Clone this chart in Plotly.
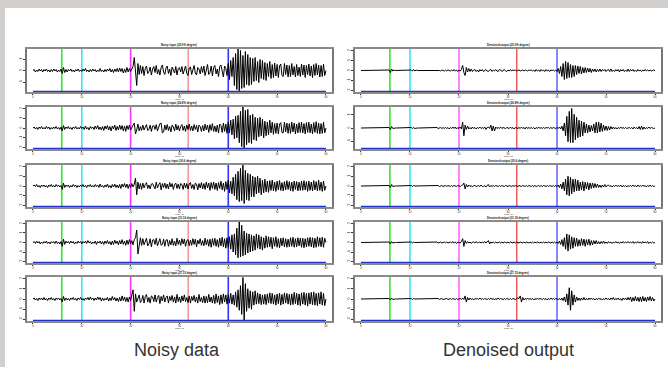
import plotly.graph_objects as go
from plotly.subplots import make_subplots

# ---------------- data ----------------
# amplitudes in half-pixel-like units, sampled every 0.25 s from 0 to 60 s
STEP = 0.25
N = 241
time_s = [i * STEP for i in range(N)]

events_s = [5.9, 10.0, 20.0, 31.8, 40.0]
noisy_event_colors = ["#33e633", "#33e6ee", "#ff33ff", "#f59595", "#3333ff"]
den_event_colors = ["#33e633", "#33e6ee", "#ff66ff", "#ee3333", "#6a6aff"]

noisy_titles = ["Noisy input (25.0% degree)", "Noisy input (26.8% degree)",
                "Noisy input (30.6 degree)", "Noisy input (31.16 degree)",
                "Noisy input (27.15 degree)"]
den_titles = ["Denoised output (25.0% degree)", "Denoised output (26.8% degree)",
              "Denoised output (30.6 degree)", "Denoised output (31.16 degree)",
              "Denoised output (27.15 degree)"]

noisy_1 = [0, 2, -3, 1, -2, 3, -1, 2, -3, 2,
           -1, 3, -2, 1, -3, 2, -2, 3, -1, 2,
           -3, 1, -2, 3, -6, 6, -4, 2, -3, 2,
           -1, 3, -2, 1, -3, 2, -1, 3, -2, 1,
           -2, 3, -1, 4, -2, 1, -3, 2, -2, 3,
           -1, 2, -3, 1, -2, 4, -2, 1, -3, 2,
           -2, 3, -1, 4, -3, 2, -4, 3, -2, 4,
           -3, 5, -2, 4, -5, 3, -4, 6, -3, 4,
           -2, 5, 8, 26, -10, -30, 14, -8, 10, -6,
           8, -10, 4, 9, -6, -2, 7, -9, 3, 8,
           -4, 10, -7, 2, -9, 6, 11, -3, -8, 5,
           9, -6, 3, -10, 7, 2, -5, 8, -9, 4,
           6, -3, 8, -7, 2, 9, -6, -10, 5, 7,
           -8, 4, 10, -5, -9, 6, 3, -7, 8, -4,
           9, -10, 5, 12, -8, -4, 9, -11, 6, 10,
           -7, 3, -12, 8, 11, -6, -13, 9, 4, -10,
           14, -18, 20, -12, 26, -30, 34, -38, 43, -42,
           40, -36, 30, -34, 38, -28, 32, -30, 26, -28,
           24, -22, 26, -20, 18, -24, 22, -16, 20, -18,
           16, -20, 14, -12, 18, -16, 12, -14, 15, -11,
           12, -14, 9, 13, -10, -12, 14, -8, 11, -13,
           10, -12, 14, -9, 8, -13, 12, -10, 7, -12,
           13, -9, 11, -14, 10, -8, 13, -11, 9, -14,
           12, -10, 14, -9, 11, -13, 10, -12, 13, -10,
           0]
noisy_2 = [0, 2, -2, 1, -3, 2, -1, 3, -2, 1,
           -2, 3, -1, 2, -3, 1, -2, 2, -1, 3,
           -2, 1, -3, 2, -6, 5, -3, 2, -1, 3,
           -2, 1, -3, 2, -1, 3, -2, 1, -2, 3,
           -1, 2, -3, 4, -2, 1, -4, 3, -1, 2,
           -3, 4, -2, 5, -3, 2, -4, 3, -5, 4,
           -2, 5, -4, 3, -6, 4, -2, 6, -5, 3,
           -4, 6, -3, 5, -6, 4, -7, 5, -3, 6,
           -4, 3, 6, 10, -12, -4, 8, -6, 3, -5,
           6, -4, 2, 7, -5, -3, 6, -7, 4, 5,
           -3, 7, -6, 4, 9, 10, -10, -8, 6, -4,
           7, -5, 3, -8, 6, 2, -6, 8, -4, 5,
           -6, 3, 7, -5, 4, -7, 6, -3, 8, -5,
           4, -6, 7, -3, 5, -8, 6, 3, -7, 5,
           -6, 8, -4, 6, -9, 7, -5, 9, -7, 4,
           -8, 6, -10, 8, 5, -9, 10, -7, 8, -11,
           12, -10, 16, -14, 18, -22, 24, -20, 26, -30,
           34, -38, 43, -42, 36, -34, 38, -30, 26, -32,
           28, -24, 22, -26, 20, -18, 22, -16, 18, -20,
           14, -16, 12, -14, 16, -10, 12, -13, 9, -11,
           10, -12, 8, 11, -9, -10, 12, -8, 10, -11,
           9, -11, 12, -8, 10, -12, 8, -10, 11, -9,
           12, -10, 9, -12, 11, -9, 12, -10, 8, -12,
           11, -9, 13, -11, 10, -12, 9, -11, 12, -10,
           0]
noisy_3 = [0, 2, -1, 3, -2, 1, -3, 2, -1, 2,
           -2, 1, -3, 2, -1, 3, -2, 1, -2, 3,
           -1, 2, -2, 1, -7, 6, -3, 2, -1, 2,
           -3, 1, -2, 3, -1, 2, -3, 1, -2, 2,
           -1, 3, -2, 1, -3, 2, -1, 3, -2, 1,
           -2, 3, -1, 2, -3, 4, -2, 1, -3, 2,
           -2, 4, -3, 1, -4, 3, -2, 4, -3, 2,
           -4, 3, -5, 4, -2, 5, -3, 4, -5, 3,
           -3, 5, -2, 4, 16, -18, 8, -6, 5, -7,
           6, -4, 3, 7, -5, 2, -6, 4, 5, -3,
           -6, 8, -4, 3, 7, -8, 5, -3, 6, -5,
           4, -6, 7, -2, 5, -7, 3, 6, -5, 4,
           -6, 5, 3, -7, 6, -4, 5, -6, 4, 7,
           -5, 3, -7, 6, 4, -8, 5, -4, 7, -6,
           5, -7, 8, -4, 6, -9, 7, -5, 8, -7,
           6, -9, 7, -5, 10, -8, 6, -11, 9, -7,
           12, -14, 10, -16, 18, -20, 24, -28, 30, -32,
           36, -30, 43, -36, 32, -28, 26, -30, 24, -22,
           20, -22, 18, -16, 20, -14, 16, -18, 12, -14,
           14, -12, 10, -13, 11, -9, 12, -10, 8, -11,
           10, -8, 11, -9, 7, -10, 9, -8, 11, -7,
           9, -10, 8, -11, 10, -7, 9, -10, 8, -9,
           10, -9, 11, -8, 9, -11, 10, -9, 8, -10,
           11, -8, 9, -10, 12, -9, 8, -11, 10, -9,
           0]
noisy_4 = [0, 2, -2, 3, -1, 2, -3, 1, -2, 2,
           -1, 3, -2, 1, -3, 2, -1, 2, -2, 3,
           -2, 1, -3, 2, -8, 7, -4, 3, -1, 2,
           -2, 3, -1, 2, -3, 1, -2, 3, -1, 2,
           -3, 2, -1, 3, -2, 4, -1, 2, -3, 1,
           -2, 3, -4, 2, -1, 3, -3, 2, -4, 3,
           -2, 4, -3, 2, -5, 3, -4, 5, -2, 3,
           -5, 4, -3, 6, -4, 3, -6, 5, -4, 6,
           -3, 4, -5, 6, 10, 26, -24, -8, 10, -6,
           8, -5, 4, 9, -7, -3, 8, -9, 5, 6,
           -4, 9, -7, 3, 8, -6, -4, 7, -8, 5,
           6, -8, 4, -5, 8, -6, 3, -7, 9, -4,
           5, -6, 8, -3, 7, -8, 4, 6, -7, 5,
           -6, 8, -4, 7, -9, 5, -3, 8, -6, 4,
           -7, 9, -5, 6, -8, 7, -10, 8, -6, 9,
           -8, 6, -10, 9, -7, 11, -9, 8, -12, 10,
           -10, 12, -14, 16, -20, 18, -26, 30, -32, 43,
           -30, 36, -28, 24, -26, 20, -22, 18, -20, 16,
           -18, 14, -16, 18, -12, 16, -14, 12, -16, 10,
           -12, 14, -10, 12, -9, 11, -13, 10, -8, 12,
           -10, 8, -11, 9, -7, 10, -9, 8, -10, 7,
           -9, 10, -8, 11, -10, 8, -9, 10, -7, 9,
           -10, 9, -11, 8, -9, 10, -8, 11, -9, 10,
           -11, 9, -10, 12, -8, 10, -9, 11, -10, 9,
           0]
noisy_5 = [0, 2, -2, 1, -3, 2, -1, 2, -2, 3,
           -2, 1, -3, 2, -1, 3, -2, 1, -3, 2,
           -1, 2, -2, 1, -6, 5, -3, 2, -2, 1,
           -3, 2, -1, 3, -2, 1, -3, 2, -1, 3,
           -2, 1, -3, 2, -1, 3, -2, 4, -1, 2,
           -3, 2, -2, 4, -1, 3, -4, 2, -3, 1,
           -2, 3, -4, 2, -3, 5, -2, 3, -4, 2,
           -5, 3, -4, 6, -3, 4, -5, 3, -6, 4,
           -3, 5, 18, -24, 10, -6, 4, 8, -7, -3,
           7, -8, 5, 9, -6, 3, -8, 6, 4, -5,
           8, -6, 3, 7, -9, 5, -4, 8, -6, 3,
           6, -8, 5, -3, 7, -6, 4, -8, 9, -5,
           4, -7, 6, -4, 8, -5, 3, -7, 6, -8,
           5, -3, 7, -6, 4, -8, 9, -5, 3, -7,
           6, -8, 5, -7, 9, -6, 4, -8, 7, -9,
           10, -7, 6, -11, 8, -9, 10, -6, 8, -10,
           9, -8, 11, -10, 8, -12, 14, -16, 18, -22,
           26, -30, 42, -42, 30, -24, 20, -18, 16, -20,
           14, -12, 16, -10, 12, -9, 10, -11, 8, -10,
           9, -11, 10, -8, 12, -9, 11, -10, 8, -12,
           10, -9, 11, -12, 9, -10, 12, -8, 11, -10,
           9, -12, 10, -11, 13, -9, 11, -12, 10, -13,
           12, -10, 13, -12, 11, -14, 12, -10, 13, -11,
           14, -12, 11, -13, 12, -10, 14, -12, 11, -13,
           0]

den_1 = [0, 0, 0, 0, 0, 0, 0, 0, 0, 0,
         0, 0, 0, 0, 0, 0, 0, 0, 0, 0,
         0, 0, 0, 1, -4, 3, -1, 1, 0, 0,
         0, 0, 0, 0, 0, 0, 0, 0, 0, 0,
         0, 1, -1, 2, -1, 1, 0, 0, 0, 0,
         0, 0, 0, 0, 0, 0, 0, 0, 0, 0,
         0, 0, 0, 1, 0, -1, 1, 0, -1, 1,
         -1, 1, 0, -1, 1, -1, 2, -1, 1, -2,
         1, -1, 2, 10, -4, -10, 6, -3, 4, -2,
         3, -2, 1, 2, -2, 1, -3, 2, -1, 2,
         -2, 1, 2, -1, -2, 1, 2, -2, 1, -1,
         2, -1, -2, 2, 1, -2, 1, 2, -1, -2,
         1, -1, 2, -1, 1, 0, 1, -1, 0, 1,
         -1, 0, 1, -1, 1, 0, -1, 1, 0, 1,
         -1, 1, -2, 2, -1, 1, -2, 2, -1, 1,
         -2, 2, -1, 1, -2, 1, 0, 1, -1, 1,
         -2, 4, -6, 8, -12, 14, -18, 18, -16, 16,
         -14, 12, -14, 10, -12, 10, -8, 9, -6, 8,
         -7, 6, -5, 6, -4, 5, -3, 4, -4, 3,
         -2, 3, -3, 2, -2, 3, -2, 2, -1, 2,
         -2, 1, 2, -2, 3, -2, 1, -2, 2, -1,
         2, -3, 2, -1, 2, -2, 1, -2, 3, -2,
         2, -1, 2, -2, 1, -2, 2, -1, 1, -2,
         1, -1, 2, -1, 1, -1, 1, -1, 0, 1,
         0]
den_2 = [0, 0, 0, 0, 0, 0, 0, 0, 0, 0,
         0, 0, 0, 0, 0, 0, 0, 0, 0, 0,
         0, 0, 0, 1, -3, 3, -1, 0, 0, 0,
         0, 0, 0, 0, 0, 0, 0, 0, 0, 0,
         0, 1, -1, 1, -1, 0, 0, 0, 0, 0,
         0, 0, 0, 0, 0, 0, 0, 0, 0, 0,
         0, 0, 1, -1, 0, 1, -1, 1, -1, 1,
         -1, 1, -2, 1, -1, 2, -1, 2, -2, 1,
         -1, 2, -2, 12, -16, 6, -3, 4, -2, 1,
         -2, 2, -1, 1, -2, 1, -1, 2, -1, 1,
         -1, 2, -3, 1, 2, -1, 6, -6, 4, -6,
         2, -1, 1, -1, 2, -1, 1, 0, -1, 1,
         0, -1, 2, -1, 1, -2, 1, 0, -1, 1,
         -1, 2, -1, 1, -2, 2, -1, 1, -1, 1,
         -1, 1, -2, 1, -1, 2, -1, 1, -1, 1,
         -1, 1, 0, 1, -1, 1, -1, 1, 0, -1,
         1, -1, 2, -2, 4, -6, 10, -16, 24, -28,
         34, -30, 40, -30, 28, -24, 22, -20, 16, -18,
         14, -16, 12, -10, 8, -10, 6, -8, 5, -6,
         8, -10, 12, -10, 12, -8, 10, -7, 6, -5,
         4, -5, 3, -4, 3, -2, 2, -2, 1, -2,
         1, -1, 2, -1, 1, -1, 1, -1, 0, 1,
         -1, 1, -2, 2, -1, 1, -2, 3, -3, 4,
         -3, 2, -2, 1, -1, 2, -1, 1, 0, -1,
         0]
den_3 = [0, 0, 0, 0, 0, 0, 0, 0, 0, 0,
         0, 0, 0, 0, 0, 0, 0, 0, 0, 0,
         0, 0, 0, 1, -3, 3, -1, 0, 0, 0,
         0, 0, 0, 0, 0, 0, 0, 0, 0, 0,
         0, 1, -1, 1, 0, 0, 0, 0, 0, 0,
         0, 0, 0, 0, 0, 0, 0, 0, 0, 0,
         0, 0, 0, 1, -1, 0, 1, -1, 0, 1,
         -1, 1, 0, -1, 1, -1, 1, 0, -1, 1,
         0, -1, 1, 2, 6, -6, 3, -2, 2, -1,
         1, -2, 1, 1, -1, 0, 1, -1, 2, -1,
         -1, 1, -2, 1, 3, -2, 1, -1, 1, -1,
         1, 0, -1, 1, -1, 1, 0, -1, 1, 0,
         -1, 1, 0, -1, 1, -1, 1, 0, -1, 1,
         0, -1, 1, 0, -1, 1, -1, 1, 0, -1,
         1, -1, 1, -1, 0, 1, -1, 1, -1, 1,
         0, -1, 1, -1, 1, 0, -1, 1, -1, 1,
         -1, 2, -3, 4, -6, 8, -10, 14, -18, 20,
         -20, 18, -16, 14, -12, 14, -10, 12, -10, 8,
         -8, 9, -10, 8, -6, 7, -8, 6, -5, 6,
         -4, 5, -3, 4, -3, 2, -3, 2, -2, 3,
         -2, 1, 2, -1, 1, -2, 1, -1, 2, -1,
         1, -1, 2, -2, 1, -1, 1, -2, 1, -1,
         1, -1, 2, -1, 1, -2, 2, -1, 1, -1,
         2, -1, 1, -2, 1, -1, 2, -1, 1, -1,
         0]
den_4 = [0, 0, 0, 0, 0, 0, 0, 0, 0, 0,
         0, 0, 0, 0, 0, 0, 0, 0, 0, 0,
         0, 0, 0, 1, -3, 2, -1, 0, 0, 0,
         0, 0, 0, 0, 0, 0, 0, 0, 0, 0,
         0, 1, -1, 1, 0, 0, 0, 0, 0, 0,
         0, 0, 0, 0, 0, 0, 0, 0, 0, 0,
         0, 0, 1, -1, 0, 1, -1, 0, 1, -1,
         1, -1, 0, 1, -1, 2, -1, 1, -2, 1,
         0, -1, 2, 8, -8, 4, -2, 2, -1, 1,
         -2, 1, 1, -1, 2, -1, 0, 1, -1, 1,
         -1, 2, -1, 1, 4, -3, 1, -1, 1, -1,
         1, -1, 0, 1, -1, 1, -1, 1, 0, -1,
         1, -1, 1, 0, -1, 1, -1, 1, 0, -1,
         1, 0, -1, 1, -1, 1, 0, -1, 1, -1,
         1, -1, 1, -1, 1, 0, -1, 1, -1, 1,
         -1, 1, -1, 1, 0, -1, 1, -1, 1, -1,
         1, -2, 3, -4, 6, -8, 10, -14, 18, -18,
         16, -14, 12, -12, 10, -8, 9, -8, 6, -7,
         8, -6, 7, -8, 6, -5, 7, -6, 4, -5,
         4, -3, 4, -3, 2, -3, 2, -2, 3, -2,
         1, -2, 2, -1, 1, -2, 1, -1, 2, -1,
         1, -2, 1, -1, 2, -1, 1, -1, 2, -1,
         1, -1, 2, -2, 1, -1, 2, -1, 1, -2,
         2, -1, 1, -1, 2, -2, 1, -1, 1, -1,
         0]
den_5 = [0, 0, 0, 0, 0, 0, 0, 0, 0, 0,
         0, 0, 0, 0, 0, 0, 0, 0, 0, 0,
         0, 0, 0, 1, -2, 2, -1, 0, 0, 0,
         0, 0, 0, 0, 0, 0, 0, 0, 0, 0,
         0, 1, -1, 1, 0, 0, 0, 0, 0, 0,
         0, 0, 0, 0, 0, 0, 0, 0, 0, 0,
         0, 0, 0, 1, -1, 0, 1, -1, 0, 0,
         1, -1, 0, 1, -1, 1, 0, -1, 1, -1,
         0, 1, -1, 2, -1, 6, -6, 3, -2, 2,
         -1, 1, -2, 1, 0, 1, -1, 2, -1, 1,
         -1, 1, 0, -1, 1, -1, 2, -1, 1, -2,
         1, -1, 2, -1, 1, 0, -1, 1, -1, 1,
         0, -1, 1, -1, 1, 0, -1, 1, 2, 1,
         6, -6, 3, -2, 1, -1, 2, -1, 1, -1,
         1, -2, 1, -1, 2, -1, 1, 0, -1, 1,
         -1, 1, -2, 1, -1, 2, -1, 1, -1, 1,
         0, -1, 1, -2, 2, -3, 4, -6, 10, -12,
         22, -22, 16, -12, 8, -6, 4, -3, 2, -3,
         2, -2, 3, -2, 1, -2, 2, -1, 2, -1,
         1, -2, 1, -1, 2, -1, 1, -2, 1, -1,
         2, -1, 1, -2, 2, -1, 3, -2, 1, -1,
         2, -2, 1, -3, 2, -1, 2, -2, 3, -2,
         4, -5, 3, -4, 5, -4, 3, -5, 4, -5,
         5, -4, 3, -5, 4, -3, 5, -4, 3, -4,
         0]

noisy_traces = [noisy_1, noisy_2, noisy_3, noisy_4, noisy_5]
den_traces = [den_1, den_2, den_3, den_4, den_5]

x_ticks = [0, 10, 20, 30, 40, 50, 60]
x_label_at = 30
y_ticks_3a = [-23, 0, 23]
y_ticks_3b = [-27, 0, 27]
y_labels_3 = ["-1", "0", "1"]
y_ticks_5 = [-40, -20, 0, 20, 40]
y_labels_5 = ["-2", "-1", "0", "1", "2"]
noisy_ticks = [(y_ticks_3a, y_labels_3)] + [(y_ticks_5, y_labels_5)] * 4
den_ticks = [(y_ticks_5, y_labels_5), (y_ticks_3b, y_labels_3)] + [(y_ticks_5, y_labels_5)] * 3

# ---------------- layout ----------------
W, H = 668, 367
Y_LIM = 43
X_RANGE = [-1.2, 61.2]
col_domains = [[27.1 / W, 331.8 / W], [355.1 / W, 660.9 / W]]
row_px = [(49, 92), (107, 149), (165, 207), (222, 263), (277, 321)]

fig = make_subplots(rows=5, cols=2)

annotations = []
for r in range(5):
    for c in range(2):
        idx = r * 2 + c + 1
        data = noisy_traces[r] if c == 0 else den_traces[r]
        ecols = noisy_event_colors if c == 0 else den_event_colors
        title = noisy_titles[r] if c == 0 else den_titles[r]
        tv, tt = noisy_ticks[r] if c == 0 else den_ticks[r]
        for k, (e, col) in enumerate(zip(events_s, ecols)):
            lw = 1.2 if (c == 1 and k == 3) else 1.6
            fig.add_trace(go.Scatter(x=[e, e], y=[-Y_LIM, Y_LIM], mode="lines",
                                     line=dict(color=col, width=lw),
                                     hoverinfo="skip", showlegend=False),
                          row=r + 1, col=c + 1)
        fig.add_trace(go.Scatter(x=time_s, y=data, mode="lines",
                                 line=dict(color="black", width=1),
                                 hoverinfo="skip", showlegend=False),
                      row=r + 1, col=c + 1)
        fig.add_trace(go.Scatter(x=[time_s[0], time_s[-1]], y=[-Y_LIM, -Y_LIM],
                                 mode="lines", line=dict(color="#2233cc", width=2.5),
                                 hoverinfo="skip", showlegend=False),
                      row=r + 1, col=c + 1)
        top, bot = row_px[r]
        xa = "xaxis" if idx == 1 else f"xaxis{idx}"
        ya = "yaxis" if idx == 1 else f"yaxis{idx}"
        fig.layout[xa].update(
            domain=col_domains[c], range=X_RANGE, tickvals=x_ticks,
            ticks="outside", ticklen=1.5, tickwidth=1, tickcolor="#333",
            tickfont=dict(size=2.6, color="#222"),
            showline=True, mirror=True, linecolor="#8a8a8a", linewidth=1.5,
            showgrid=False, zeroline=False)
        fig.layout[ya].update(
            domain=[1 - bot / H, 1 - top / H], range=[-Y_LIM, Y_LIM],
            tickvals=tv, ticktext=tt,
            ticks="outside", ticklen=2, tickwidth=1, tickcolor="#333",
            tickfont=dict(size=3.5, color="#222"), tickangle=-90,
            showline=True, mirror=True, linecolor="#777", linewidth=1.5,
            showgrid=False, zeroline=False)
        d0, d1 = col_domains[c]
        xl = d0 + (x_label_at - X_RANGE[0]) / (X_RANGE[1] - X_RANGE[0]) * (d1 - d0)
        annotations.append(dict(
            text="Time (s)", xref="paper", yref="paper", x=xl, y=1 - (bot + 7.4) / H,
            xanchor="center", yanchor="middle", showarrow=False,
            font=dict(size=2.5, color="#222", family="Liberation Sans")))
        annotations.append(dict(
            text="<b>" + title + "</b>", xref="paper", yref="paper",
            x=(d0 + d1) / 2, y=1 - (top - 0.3) / H,
            xanchor="center", yanchor="bottom", showarrow=False,
            font=dict(size=2.8, color="#111", family="Liberation Sans")))

annotations.append(dict(text="Noisy data", xref="paper", yref="paper",
                        x=177 / W, y=1 - 350 / H, xanchor="center", yanchor="middle",
                        showarrow=False,
                        font=dict(size=18, color="#333", family="Liberation Sans")))
annotations.append(dict(text="Denoised output", xref="paper", yref="paper",
                        x=508 / W, y=1 - 350 / H, xanchor="center", yanchor="middle",
                        showarrow=False,
                        font=dict(size=18, color="#333", family="Liberation Sans")))

shapes = [
    dict(type="rect", xref="paper", yref="paper", x0=0, x1=1, y0=1 - 8 / H, y1=1,
         fillcolor="#d2cfcc", line=dict(width=0), layer="below"),
    dict(type="rect", xref="paper", yref="paper", x0=0, x1=5 / W, y0=0, y1=1,
         fillcolor="#d2cfcc", line=dict(width=0), layer="below"),
    dict(type="rect", xref="paper", yref="paper", x0=5 / W, x1=1, y0=0, y1=1 - 8 / H,
         fillcolor="white", line=dict(width=0), layer="below"),
]

fig.update_layout(width=W, height=H, margin=dict(l=0, r=0, t=0, b=0),
                  paper_bgcolor="#dcd9d6", plot_bgcolor="white",
                  annotations=annotations, shapes=shapes, showlegend=False,
                  font=dict(family="Liberation Sans"))

fig.write_html("out.html")
